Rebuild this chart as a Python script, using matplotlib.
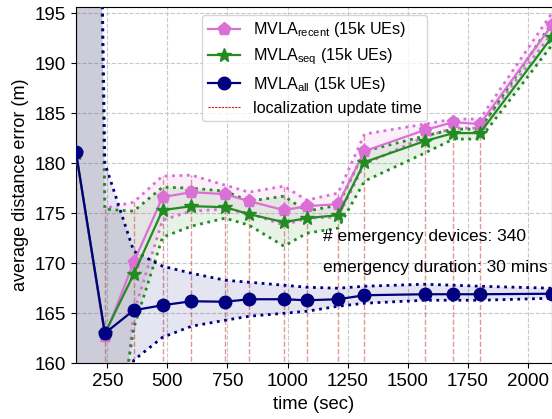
import matplotlib
matplotlib.use("Agg")
import matplotlib.pyplot as plt
from matplotlib.lines import Line2D

plt.rcParams['font.family'] = ['Liberation Sans', 'DejaVu Sans']
plt.rcParams['mathtext.fontset'] = 'custom'
plt.rcParams['mathtext.rm'] = 'Liberation Sans'
plt.rcParams['mathtext.it'] = 'Liberation Sans'

# time axis (sec)
times = [120, 240, 360, 480, 600, 740, 840, 985, 1080, 1210, 1320, 1570, 1690, 1800, 2100]
update_times = [120, 240, 360, 480, 600, 740, 840, 985, 1080, 1210, 1320, 1570, 1690, 1800]

# MVLA_recent
recent_mean = [181.0, 162.7, 170.1, 176.6, 177.1, 176.9, 176.2, 175.3, 175.7, 175.9, 181.2, 183.3, 184.1, 183.9, 193.8]
recent_upper = [385.0, 175.5, 176.1, 178.7, 178.8, 177.8, 177.1, 177.7, 176.3, 177.0, 182.9, 183.9, 184.4, 184.4, 195.0]
recent_lower = [-20.0, 138.0, 165.0, 174.3, 175.2, 175.4, 175.0, 173.8, 174.5, 174.6, 179.9, 182.6, 183.5, 183.5, 193.0]

# MVLA_seq
seq_mean = [181.0, 163.0, 168.9, 175.3, 175.7, 175.6, 174.9, 174.1, 174.5, 174.8, 180.1, 182.2, 183.0, 183.0, 192.6]
seq_upper = [380.0, 175.4, 175.2, 177.6, 177.5, 177.2, 176.2, 176.7, 175.2, 175.8, 181.2, 182.7, 183.4, 183.4, 194.0]
seq_lower = [-20.0, 144.5, 163.5, 172.6, 173.7, 174.5, 173.8, 171.7, 173.0, 173.5, 178.2, 181.0, 182.4, 182.4, 191.8]

# MVLA_all
all_mean = [181.1, 163.0, 165.3, 165.8, 166.2, 166.15, 166.4, 166.4, 166.3, 166.4, 166.8, 166.9, 166.9, 166.9, 166.95]
all_upper = [371.0, 180.0, 171.2, 169.7, 169.0, 168.3, 168.1, 167.8, 167.6, 167.5, 167.7, 167.9, 167.8, 167.7, 167.5]
all_lower = [-9.0, 146.0, 160.3, 162.6, 163.7, 164.3, 164.7, 165.0, 165.2, 165.7, 166.0, 166.3, 166.3, 166.3, 166.5]

labels = [r'MVLA$_{\mathrm{recent}}$ (15k UEs)', r'MVLA$_{\mathrm{seq}}$ (15k UEs)',
          r'MVLA$_{\mathrm{all}}$ (15k UEs)', 'localization update time']
annotations = ['# emergency devices: 340', 'emergency duration: 30 mins']
xticks = [250, 500, 750, 1000, 1250, 1500, 1750, 2000]
yticks = [160, 165, 170, 175, 180, 185, 190, 195]

fig = plt.figure(figsize=(5.52, 4.19), dpi=100)
ax = fig.add_axes([76/552, 1-363.3/419, 476/552, 356.3/419])

ax.grid(True, linestyle='--', color='#c8c8c8', linewidth=0.8, zorder=0)
ax.set_axisbelow(True)

# update times, drawn from bottom up to recent upper bound
for t in update_times:
    top = recent_upper[times.index(t)]
    ax.vlines(t, 150, top, colors='#d05050', linestyles='--', linewidth=1.0, alpha=0.6, zorder=1)

series = [
    (recent_mean, recent_upper, recent_lower, 'orchid', 'p', 9.5),
    (seq_mean, seq_upper, seq_lower, 'forestgreen', '*', 10),
    (all_mean, all_upper, all_lower, 'navy', 'o', 9),
]
handles = []
for (m, up, lo, c, mk, ms), lab in zip(series, labels):
    ax.fill_between(times, lo, up, color=c, alpha=0.1, linewidth=0, zorder=2)
    ax.plot(times, up, linestyle=':', color=c, linewidth=2, zorder=3)
    ax.plot(times, lo, linestyle=':', color=c, linewidth=2, zorder=3)
    h, = ax.plot(times, m, color=c, marker=mk, markersize=ms, linewidth=1.6, zorder=4, label=lab)
    handles.append(h)

handles.append(Line2D([], [], color='#cc2020', linestyle=(0, (2, 1)), linewidth=0.8, label=labels[3]))

ax.set_xlim(120, 2100)
ax.set_ylim(160, 195.6)
ax.set_xticks(xticks)
ax.set_yticks(yticks)
ax.tick_params(labelsize=13.5)
ax.set_xlabel('time (sec)', fontsize=13.3)
ax.set_ylabel('average distance error (m)', fontsize=13)

leg = ax.legend(handles=handles, loc='upper left', bbox_to_anchor=(0.265, 0.978),
                borderaxespad=0, fontsize=11.6, framealpha=0.8, labelspacing=0.45,
                borderpad=0.35)

ax.text(0.518, 0.3545, annotations[0], transform=ax.transAxes, fontsize=12.5, va='center', ha='left')
ax.text(0.518, 0.2675, annotations[1], transform=ax.transAxes, fontsize=12.5, va='center', ha='left')

fig.savefig('out.png', dpi=100)
